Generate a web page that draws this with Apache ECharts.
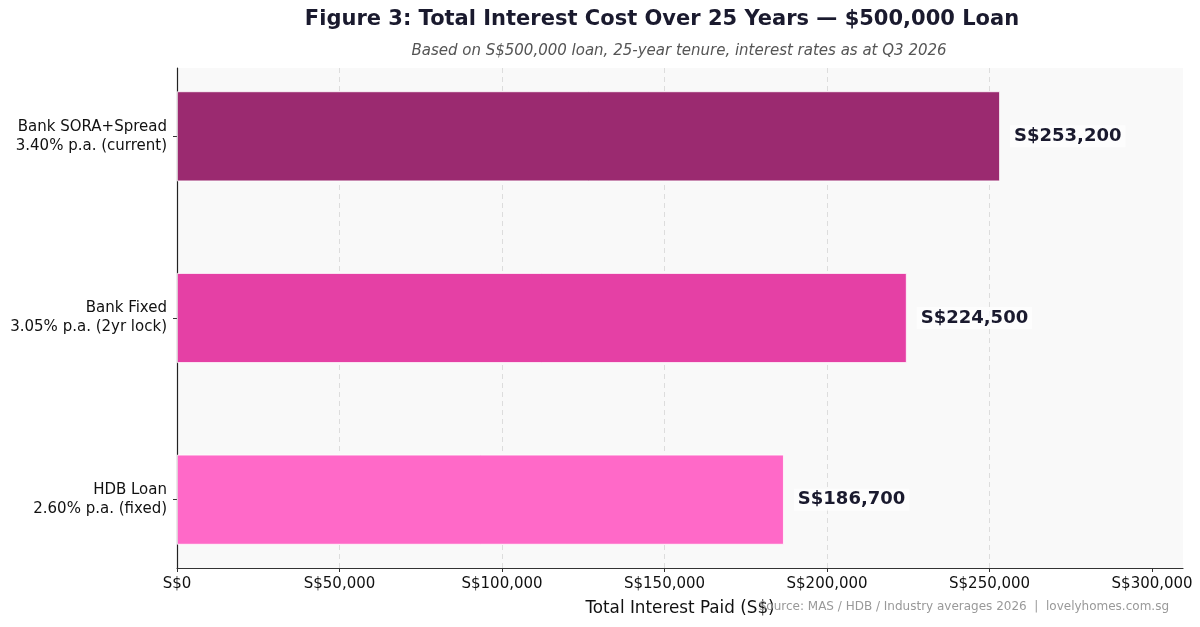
<!DOCTYPE html>
<html>
<head>
<meta charset="utf-8">
<script src="https://cdn.jsdelivr.net/npm/echarts@6/dist/echarts.min.js"></script>
<style>
html,body{margin:0;padding:0;background:#fff;}
#chart{width:1200px;height:627px;}
</style>
</head>
<body>
<div id="chart"></div>
<script>
// Data (bottom to top)
const categories = ['HDB Loan\n2.60% p.a. (fixed)', 'Bank Fixed\n3.05% p.a. (2yr lock)', 'Bank SORA+Spread\n3.40% p.a. (current)'];
const totalInterest = [186700, 224500, 253200];
const barColors = ['#ff69c8', '#e540a5', '#9b2a70'];
const xTicks = [0, 50000, 100000, 150000, 200000, 250000, 300000];
const xMax = 309500;

const FONT = 'DejaVu Sans';
const fmt = v => 'S$' + v.toLocaleString('en-US');

const chart = echarts.init(document.getElementById('chart'), null, {renderer: 'canvas'});
chart.setOption({
  backgroundColor: '#ffffff',
  textStyle: {fontFamily: FONT},
  animation: false,
  grid: [
    {left: 177, right: 17, top: 68, bottom: 59, show: true, backgroundColor: '#f9f9f9', borderWidth: 0, containLabel: false},
    {left: 177, right: 17, top: 45.5, bottom: 36.5, containLabel: false}
  ],
  xAxis: [
    {
      gridIndex: 0, type: 'value', min: 0, max: xMax, interval: 50000,
      axisLine: {show: true, lineStyle: {color: '#333', width: 1.2}},
      axisTick: {show: true, length: 4, lineStyle: {color: '#333'}, customValues: xTicks},
      axisLabel: {color: '#111', fontSize: 15, fontFamily: FONT, margin: 9, customValues: xTicks, formatter: v => fmt(v)},
      splitLine: {show: true, showMinLine: false, showMaxLine: false, lineStyle: {color: '#dddddd', type: [5, 4], width: 1}},
      name: 'Total Interest Paid (S$)', nameLocation: 'middle', nameGap: 32,
      nameTextStyle: {color: '#111', fontSize: 16.8, fontFamily: FONT, verticalAlign: 'top'}
    },
    {
      gridIndex: 1, type: 'value', min: 0, max: xMax, show: false
    }
  ],
  yAxis: [
    {
      gridIndex: 0, type: 'value', min: 0, max: 1,
      axisLine: {show: true, onZero: false, lineStyle: {color: '#222', width: 1.2}},
      axisTick: {show: false}, axisLabel: {show: false}, splitLine: {show: false}
    },
    {
      gridIndex: 1, type: 'category', data: categories,
      axisLine: {show: false},
      axisTick: {show: true, alignWithLabel: true, length: 4, lineStyle: {color: '#333'}},
      axisLabel: {color: '#111', fontSize: 15, fontFamily: FONT, lineHeight: 19, margin: 10, align: 'right'},
      splitLine: {show: false}
    }
  ],
  graphic: [
    {type: 'text', x: 662, y: 20, z: 10, style: {text: 'Figure 3: Total Interest Cost Over 25 Years \u2014 $500,000 Loan', fill: '#1a1a2e', font: 'bold 21px "DejaVu Sans"', textAlign: 'center', textVerticalAlign: 'middle'}},
    {type: 'text', x: 679, y: 51, z: 10, style: {text: 'Based on S$500,000 loan, 25-year tenure, interest rates as at Q3 2026', fill: '#555555', font: 'italic 15px "DejaVu Sans"', textAlign: 'center', textVerticalAlign: 'middle'}},
    {type: 'text', x: 1169, y: 607, z: 10, style: {text: 'Source: MAS / HDB / Industry averages 2026  |  lovelyhomes.com.sg', fill: '#999999', font: '12px "DejaVu Sans"', textAlign: 'right', textVerticalAlign: 'middle'}}
  ],
  series: [{
    type: 'bar', xAxisIndex: 1, yAxisIndex: 1,
    barWidth: 90,
    data: totalInterest.map((v, i) => ({value: v, itemStyle: {color: barColors[i]}})),
    itemStyle: {borderColor: '#ffffff', borderWidth: 0.8},
    label: {
      show: true, position: 'right', distance: 10,
      formatter: p => fmt(p.value),
      color: '#1a1a2e', fontSize: 18, fontWeight: 'bold', fontFamily: FONT,
      backgroundColor: 'rgba(255,255,255,0.7)', padding: [2, 4]
    }
  }]
});
</script>
</body>
</html>
